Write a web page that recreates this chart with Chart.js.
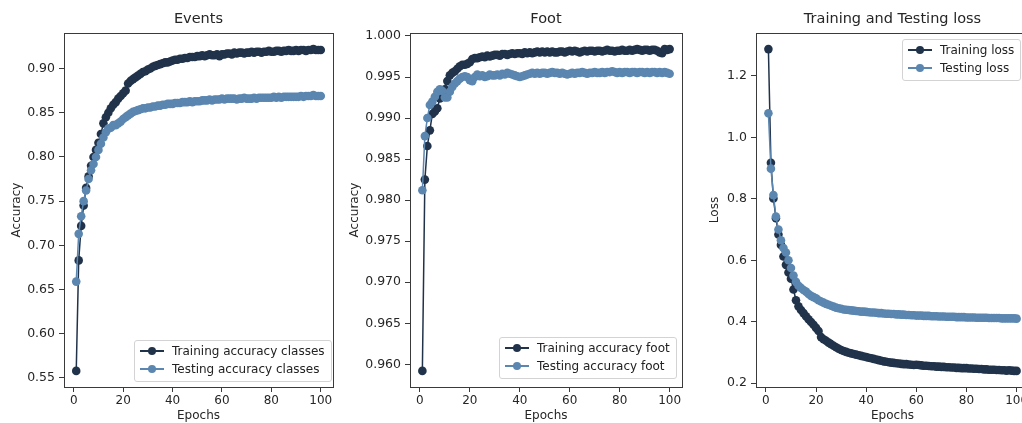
<!DOCTYPE html>
<html>
<head>
<meta charset="utf-8">
<script src="https://cdn.jsdelivr.net/npm/chart.js@4.4.1/dist/chart.umd.min.js"></script>
<style>
  body { margin: 0; width: 1022px; height: 423px; overflow: hidden; background: #fff; position: relative; font-family: 'DejaVu Sans', sans-serif; }
  .panel { position: absolute; top: 0; height: 423px; }
  .legend { position: absolute; border: 1px solid #d3d3d3; border-radius: 3px; background: rgba(255,255,255,0.85);
            font-size: 12px; color: #222; padding: 1px 6px 3px 5px; white-space: nowrap; }
  .legend .row { display: flex; align-items: center; height: 18px; }
  .legend .swatch { position: relative; width: 24px; height: 10px; margin-right: 8px; flex: none; }
  .legend .swatch::before { content: ''; position: absolute; left: 0; right: 0; top: 4px; height: 2px; background: var(--c); }
  .legend .swatch::after { content: ''; position: absolute; left: 8px; top: 1px; width: 8px; height: 8px; border-radius: 50%; background: var(--c); }
</style>
</head>
<body>
<script>
// values, one per epoch (1..100)
const trainAccClasses = [
  0.558, 0.683, 0.722, 0.745, 0.765, 0.778, 0.790, 0.800, 0.808, 0.816,
  0.826, 0.838, 0.845, 0.850, 0.855, 0.859, 0.862, 0.866, 0.869, 0.872,
  0.875, 0.883, 0.886, 0.888, 0.890, 0.892, 0.894, 0.896, 0.897, 0.899,
  0.900, 0.902, 0.903, 0.904, 0.905, 0.906, 0.907, 0.907, 0.908, 0.909,
  0.910, 0.910, 0.911, 0.911, 0.912, 0.912, 0.913, 0.913, 0.913, 0.914,
  0.914, 0.915, 0.914, 0.915, 0.916, 0.915, 0.915, 0.916, 0.914, 0.916,
  0.916, 0.917, 0.917, 0.916, 0.918, 0.917, 0.918, 0.918, 0.917, 0.918,
  0.918, 0.919, 0.918, 0.919, 0.919, 0.918, 0.919, 0.919, 0.920, 0.919,
  0.919, 0.920, 0.920, 0.919, 0.920, 0.920, 0.921, 0.920, 0.920, 0.921,
  0.920, 0.921, 0.921, 0.920, 0.921, 0.921, 0.922, 0.921, 0.921, 0.921
];
const testAccClasses = [
  0.659, 0.713, 0.733, 0.750, 0.762, 0.775, 0.785, 0.792, 0.800, 0.808,
  0.815, 0.822, 0.828, 0.832, 0.833, 0.836, 0.836, 0.838, 0.840, 0.843,
  0.845, 0.847, 0.849, 0.851, 0.852, 0.853, 0.854, 0.855, 0.855, 0.856,
  0.856, 0.857, 0.857, 0.858, 0.858, 0.859, 0.859, 0.860, 0.860, 0.860,
  0.861, 0.861, 0.861, 0.862, 0.862, 0.862, 0.863, 0.862, 0.863, 0.863,
  0.863, 0.864, 0.864, 0.864, 0.865, 0.864, 0.865, 0.865, 0.865, 0.866,
  0.865, 0.866, 0.866, 0.866, 0.866, 0.865, 0.866, 0.866, 0.867, 0.866,
  0.866, 0.866, 0.867, 0.866, 0.867, 0.867, 0.867, 0.867, 0.867, 0.867,
  0.868, 0.867, 0.868, 0.867, 0.868, 0.868, 0.868, 0.868, 0.868, 0.868,
  0.868, 0.869, 0.868, 0.869, 0.869, 0.869, 0.870, 0.869, 0.869, 0.869
];
const trainAccFoot = [
  0.9592, 0.9825, 0.9866, 0.9885, 0.9905, 0.9908, 0.9912, 0.9924, 0.9930, 0.9935,
  0.9945, 0.9952, 0.9955, 0.9957, 0.9960, 0.9963, 0.9965, 0.9965, 0.9966, 0.9968,
  0.9972, 0.9973, 0.9973, 0.9974, 0.9975, 0.9974, 0.9976, 0.9975, 0.9976, 0.9977,
  0.9977, 0.9976, 0.9978, 0.9978, 0.9977, 0.9978, 0.9979, 0.9978, 0.9979, 0.9979,
  0.9978, 0.9980, 0.9979, 0.9980, 0.9979, 0.9980, 0.9981, 0.9980, 0.9981, 0.9980,
  0.9981, 0.9980, 0.9981, 0.9980, 0.9980, 0.9981, 0.9981, 0.9980, 0.9981, 0.9982,
  0.9981, 0.9982, 0.9981, 0.9980, 0.9981, 0.9982, 0.9981, 0.9982, 0.9982, 0.9981,
  0.9982, 0.9982, 0.9981, 0.9982, 0.9983, 0.9982, 0.9982, 0.9981, 0.9982, 0.9982,
  0.9983, 0.9982, 0.9982, 0.9983, 0.9982, 0.9983, 0.9984, 0.9983, 0.9982, 0.9983,
  0.9983, 0.9982, 0.9983, 0.9983, 0.9982, 0.9980, 0.9979, 0.9984, 0.9983, 0.9984
];
const testAccFoot = [
  0.9812, 0.9878, 0.9900, 0.9916, 0.9920, 0.9926, 0.9932, 0.9935, 0.9933, 0.9925,
  0.9925, 0.9932, 0.9938, 0.9942, 0.9945, 0.9948, 0.9950, 0.9951, 0.9950, 0.9946,
  0.9945, 0.9950, 0.9953, 0.9951, 0.9952, 0.9950, 0.9951, 0.9953, 0.9952, 0.9952,
  0.9953, 0.9952, 0.9954, 0.9953, 0.9955, 0.9954, 0.9953, 0.9952, 0.9951, 0.9950,
  0.9951, 0.9952, 0.9953, 0.9954, 0.9955, 0.9954, 0.9955, 0.9954, 0.9955, 0.9955,
  0.9954, 0.9955, 0.9956, 0.9955, 0.9955, 0.9954, 0.9955, 0.9954, 0.9953, 0.9954,
  0.9955, 0.9954, 0.9955, 0.9955, 0.9956, 0.9955, 0.9954, 0.9955, 0.9955, 0.9956,
  0.9955, 0.9955, 0.9956, 0.9955, 0.9956, 0.9956, 0.9957, 0.9956, 0.9955, 0.9956,
  0.9955, 0.9956, 0.9956, 0.9955, 0.9956, 0.9956, 0.9955, 0.9956, 0.9956, 0.9955,
  0.9956, 0.9955, 0.9956, 0.9956, 0.9955, 0.9956, 0.9955, 0.9956, 0.9955, 0.9954
];
const trainLoss = [
  1.287, 0.917, 0.801, 0.737, 0.684, 0.650, 0.612, 0.585, 0.560, 0.540,
  0.505, 0.470, 0.450, 0.438, 0.428, 0.418, 0.408, 0.399, 0.390, 0.380,
  0.370, 0.350, 0.343, 0.338, 0.332, 0.327, 0.322, 0.317, 0.312, 0.308,
  0.305, 0.302, 0.299, 0.297, 0.295, 0.293, 0.291, 0.289, 0.287, 0.285,
  0.283, 0.281, 0.279, 0.277, 0.275, 0.273, 0.271, 0.270, 0.268, 0.267,
  0.266, 0.265, 0.264, 0.263, 0.262, 0.262, 0.261, 0.260, 0.259, 0.260,
  0.259, 0.258, 0.257, 0.257, 0.256, 0.255, 0.255, 0.254, 0.254, 0.253,
  0.253, 0.252, 0.252, 0.251, 0.251, 0.250, 0.250, 0.249, 0.249, 0.249,
  0.248, 0.248, 0.247, 0.247, 0.246, 0.246, 0.245, 0.245, 0.244, 0.244,
  0.244, 0.243, 0.243, 0.242, 0.242, 0.241, 0.242, 0.241, 0.240, 0.240
];
const testLoss = [
  1.078, 0.898, 0.812, 0.742, 0.700, 0.665, 0.640, 0.625, 0.600, 0.575,
  0.550, 0.530, 0.517, 0.510, 0.503, 0.498, 0.490, 0.484, 0.480, 0.476,
  0.470, 0.466, 0.462, 0.458, 0.455, 0.452, 0.449, 0.446, 0.444, 0.442,
  0.440, 0.439, 0.438, 0.437, 0.436, 0.435, 0.434, 0.433, 0.433, 0.432,
  0.431, 0.430, 0.430, 0.429, 0.428, 0.428, 0.427, 0.426, 0.426, 0.425,
  0.425, 0.424, 0.424, 0.423, 0.423, 0.422, 0.422, 0.421, 0.421, 0.420,
  0.420, 0.420, 0.419, 0.419, 0.419, 0.418, 0.418, 0.418, 0.417, 0.417,
  0.417, 0.416, 0.416, 0.416, 0.416, 0.415, 0.415, 0.415, 0.415, 0.414,
  0.414, 0.414, 0.414, 0.413, 0.413, 0.413, 0.413, 0.413, 0.412, 0.412,
  0.412, 0.412, 0.412, 0.411, 0.411, 0.411, 0.411, 0.411, 0.411, 0.410
];
const epochs = trainAccClasses.map((v, i) => i + 1);

const xTicks = [0, 20, 40, 60, 80, 100];
const classTicks = [0.55, 0.60, 0.65, 0.70, 0.75, 0.80, 0.85, 0.90];
const footTicks = [0.960, 0.965, 0.970, 0.975, 0.980, 0.985, 0.990, 0.995, 1.000];
const lossTicks = [0.2, 0.4, 0.6, 0.8, 1.0, 1.2];

const DARK = '#21334a';
const LIGHT = '#5a86b0';
const INK = '#262626';

// box round each axes, like matplotlib spines
const framePlugin = {
  id: 'frame',
  afterDraw(chart) {
    const a = chart.chartArea, ctx = chart.ctx;
    ctx.save();
    ctx.strokeStyle = '#3a3a3a';
    ctx.lineWidth = 1;
    ctx.strokeRect(Math.round(a.left) + 0.5, Math.round(a.top) + 0.5,
                   Math.round(a.right - a.left), Math.round(a.bottom - a.top));
    ctx.restore();
  }
};

function limits(a, b) {
  const lo = Math.min(...a, ...b), hi = Math.max(...a, ...b), m = (hi - lo) * 0.05;
  return [lo - m, hi + m];
}

function makePanel(p) {
  const wrap = document.createElement('div');
  wrap.className = 'panel';
  wrap.style.left = p.left + 'px';
  wrap.style.width = p.width + 'px';
  const canvas = document.createElement('canvas');
  canvas.width = p.width;
  canvas.height = 423;
  wrap.appendChild(canvas);
  document.body.appendChild(wrap);

  const [ymin, ymax] = limits(p.train, p.test);
  const tickGrid = { display: true, drawOnChartArea: false, drawTicks: true, tickLength: 5, color: '#3a3a3a' };

  new Chart(canvas, {
    type: 'line',
    data: {
      datasets: [
        { label: p.names[0], data: epochs.map((e, i) => ({ x: e, y: p.train[i] })), order: 1,
          borderColor: DARK, backgroundColor: DARK, borderWidth: 1.5, pointRadius: 4.3, pointBorderWidth: 0, tension: 0 },
        { label: p.names[1], data: epochs.map((e, i) => ({ x: e, y: p.test[i] })), order: 0,
          borderColor: LIGHT, backgroundColor: LIGHT, borderWidth: 1.5, pointRadius: 4.3, pointBorderWidth: 0, tension: 0 }
      ]
    },
    options: {
      responsive: false,
      animation: false,
      layout: { padding: { left: 0, right: p.padRight, top: 0, bottom: 0 } },
      plugins: {
        legend: { display: false },
        tooltip: { enabled: false },
        title: { display: true, text: p.title, fullSize: false, color: INK,
                 font: { family: 'DejaVu Sans', size: 14.5, weight: 'normal' }, padding: { top: 11, bottom: 4.6 } }
      },
      scales: {
        x: {
          type: 'linear', min: -3.95, max: 104.95,
          afterBuildTicks: ax => { ax.ticks = xTicks.map(v => ({ value: v })); },
          afterFit: s => { s.height = 36; },
          grid: tickGrid, border: { display: false },
          ticks: { color: INK, font: { family: 'DejaVu Sans', size: 12 }, padding: 2 },
          title: { display: true, text: 'Epochs', color: INK, font: { family: 'DejaVu Sans', size: 12 }, padding: { top: 0, bottom: 0 } }
        },
        y: {
          type: 'linear', min: ymin, max: ymax,
          afterBuildTicks: ax => { ax.ticks = p.yTicks.map(v => ({ value: v })); },
          afterFit: s => { s.width = p.yWidth; },
          grid: tickGrid, border: { display: false },
          ticks: { color: INK, font: { family: 'DejaVu Sans', size: 12.5 }, padding: 4, callback: v => v.toFixed(p.decimals) },
          title: { display: true, text: p.yTitle, color: INK, font: { family: 'DejaVu Sans', size: 12 }, padding: { top: p.yTitlePad, bottom: 0 } }
        }
      }
    },
    plugins: [framePlugin]
  });

  const lg = document.createElement('div');
  lg.className = 'legend';
  lg.style.left = p.legend[0] + 'px';
  lg.style.top = p.legend[1] + 'px';
  [[DARK, p.names[0]], [LIGHT, p.names[1]]].forEach(([c, name]) => {
    const row = document.createElement('div');
    row.className = 'row';
    const sw = document.createElement('span');
    sw.className = 'swatch';
    sw.style.setProperty('--c', c);
    const tx = document.createElement('span');
    tx.textContent = name;
    row.appendChild(sw);
    row.appendChild(tx);
    lg.appendChild(row);
  });
  document.body.appendChild(lg);
}

makePanel({ left: 0, width: 340, padRight: 7, yWidth: 64, yTitlePad: 10, title: 'Events', yTitle: 'Accuracy',
  train: trainAccClasses, test: testAccClasses, yTicks: classTicks, decimals: 2,
  names: ['Training accuracy classes', 'Testing accuracy classes'], legend: [134, 340] });
makePanel({ left: 340, width: 350, padRight: 8, yWidth: 70, yTitlePad: 8, title: 'Foot', yTitle: 'Accuracy',
  train: trainAccFoot, test: testAccFoot, yTicks: footTicks, decimals: 3,
  names: ['Training accuracy foot', 'Testing accuracy foot'], legend: [499, 337] });
makePanel({ left: 690, width: 347, padRight: 8, yWidth: 66, yTitlePad: 18, title: 'Training and Testing loss', yTitle: 'Loss',
  train: trainLoss, test: testLoss, yTicks: lossTicks, decimals: 1,
  names: ['Training loss', 'Testing loss'], legend: [902, 39] });
</script>
</body>
</html>
